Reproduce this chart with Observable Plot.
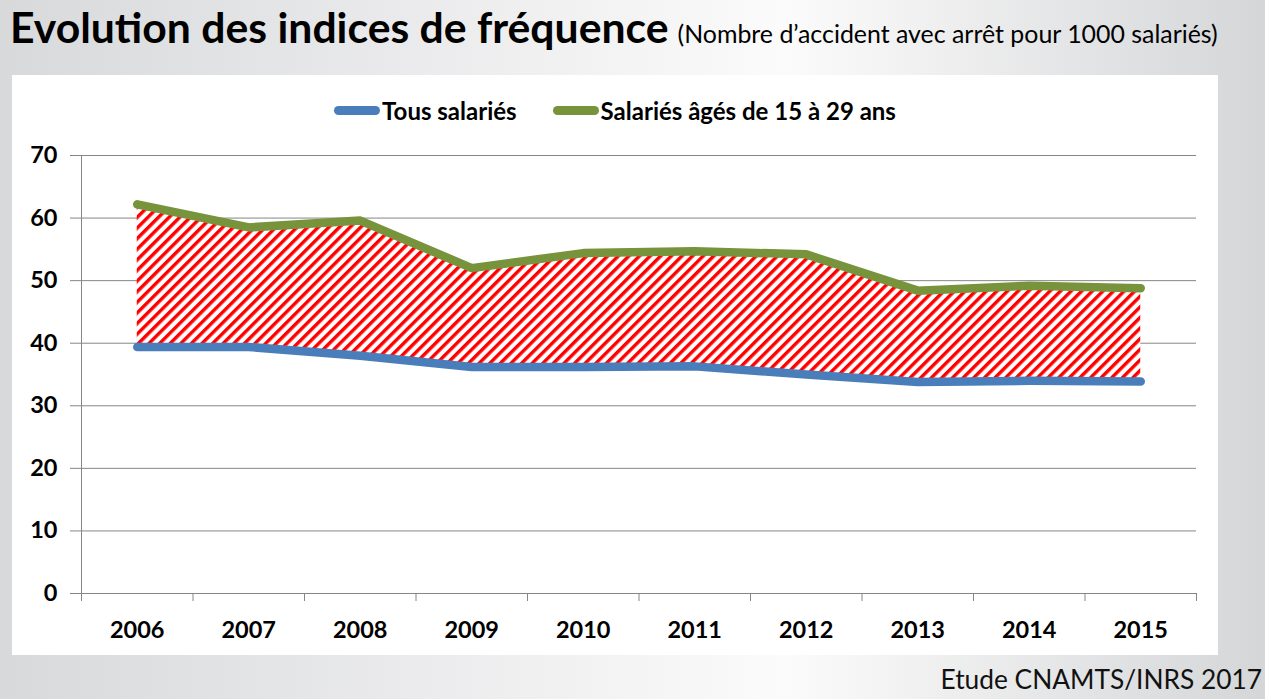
<!DOCTYPE html>
<html>
<head>
<meta charset="utf-8">
<script src="https://cdn.jsdelivr.net/npm/d3@7"></script>
<script src="https://cdn.jsdelivr.net/npm/@observablehq/plot@0.6"></script>
<style>
  html, body { margin: 0; padding: 0; }
  body {
    width: 1265px; height: 699px; position: relative; overflow: hidden;
    background: linear-gradient(to right, #d8d9db 0%, #f4f4f5 50%, #fbfbfb 62%, #d5d6d8 100%);
    font-family: Lato, "Open Sans", sans-serif;
  }
  #title { position: absolute; left: 10px; top: 1px; white-space: nowrap; color: #000; }
  #title .main { font-size: 42.7px; font-weight: 700; }
  #title .sub { font-size: 24.9px; font-weight: 400; margin-left: 9px; }
  #panel { position: absolute; left: 12px; top: 75px; width: 1206px; height: 580px; background: #fff; }
  #legend { position: absolute; left: 0; top: 16px; width: 1206px; text-align: center; font-size: 24px; font-weight: 700; color: #000; }
  #legend .item { display: inline-flex; align-items: center; margin: 0 18px; }
  #legend .sw { display: inline-block; width: 46px; height: 9px; border-radius: 5px; margin-right: 2px; }
  #chart { position: absolute; left: 0; top: 0; }
  #caption { position: absolute; right: 3px; top: 663px; font-size: 26.3px; color: #111; }
</style>
</head>
<body>
<svg width="0" height="0" style="position:absolute">
  <defs>
    <pattern id="hatch" patternUnits="userSpaceOnUse" width="7.5" height="7.5" patternTransform="rotate(45)">
      <rect x="0" y="0" width="7.5" height="7.5" fill="#ffffff"></rect>
      <rect x="0" y="0" width="3.4" height="7.5" fill="#ff0000"></rect>
    </pattern>
  </defs>
</svg>
<div id="title"><span class="main">Evolution des indices de fréquence</span><span class="sub">(Nombre d’accident avec arrêt pour 1000 salariés)</span></div>
<div id="panel">
  <div id="chart"></div>
  <div id="legend"></div>
</div>
<div id="caption">Etude CNAMTS/INRS 2017</div>
<script>
const years = [2006, 2007, 2008, 2009, 2010, 2011, 2012, 2013, 2014, 2015];
const tousSalaries = [39.4, 39.4, 38.0, 36.2, 36.2, 36.3, 35.0, 33.8, 34.0, 33.9];
const jeunesSalaries = [62.2, 58.5, 59.6, 52.0, 54.4, 54.7, 54.2, 48.4, 49.2, 48.8];
const yTicks = [0, 10, 20, 30, 40, 50, 60, 70];
const seriesNames = ["Tous salariés", "Salariés âgés de 15 à 29 ans"];
const seriesColors = ["#4a7ebb", "#77933c"];

const rows = years.map((y, i) => ({year: y, tous: tousSalaries[i], jeunes: jeunesSalaries[i]}));
const bounds = [...years.map(y => y - 0.5), years[years.length - 1] + 0.5];

const plot = Plot.plot({
  width: 1206,
  height: 580,
  marginLeft: 69,
  marginRight: 22,
  marginTop: 80,
  marginBottom: 62,
  style: {fontFamily: "Lato, 'Open Sans', sans-serif", fontSize: "23.5px", fontWeight: "700", color: "#000", background: "transparent"},
  x: {domain: [years[0] - 0.5, years[years.length - 1] + 0.5]},
  y: {domain: [0, 70]},
  marks: [
    Plot.ruleY(yTicks, {stroke: "#868686", strokeWidth: 1, insetLeft: -11}),
    Plot.ruleX([bounds[0]], {y1: 0, y2: 70, stroke: "#868686", strokeWidth: 1}),
    Plot.ruleX(bounds, {y1: 0, y2: 0, insetBottom: -8, stroke: "#868686", strokeWidth: 1}),
    Plot.axisY(yTicks, {tickSize: 0, tickPadding: 24, label: null, fill: "#000"}),
    Plot.axisX(years, {tickSize: 0, tickPadding: 28, tickFormat: d => String(d), label: null, fill: "#000"}),
    Plot.areaY(rows, {x: "year", y1: "tous", y2: "jeunes", fill: "url(#hatch)"}),
    Plot.line(rows, {x: "year", y: "tous", stroke: seriesColors[0], strokeWidth: 8.5, strokeLinecap: "round", strokeLinejoin: "round"}),
    Plot.line(rows, {x: "year", y: "jeunes", stroke: seriesColors[1], strokeWidth: 8.5, strokeLinecap: "round", strokeLinejoin: "round"})
  ]
});
document.getElementById("chart").appendChild(plot);

const legend = document.getElementById("legend");
seriesNames.forEach((name, i) => {
  const item = document.createElement("span");
  item.className = "item";
  const sw = document.createElement("span");
  sw.className = "sw";
  sw.style.background = seriesColors[i];
  item.appendChild(sw);
  item.appendChild(document.createTextNode(name));
  legend.appendChild(item);
});
</script>
</body>
</html>
